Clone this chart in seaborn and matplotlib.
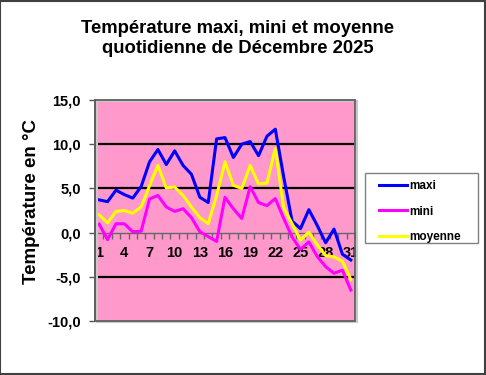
import matplotlib
matplotlib.use("Agg")
import matplotlib.pyplot as plt
import seaborn as sns
import pandas as pd
from matplotlib.patches import Rectangle
from matplotlib.ticker import FuncFormatter

days = list(range(1, 32))
maxi = [3.7, 3.5, 4.8, 4.3, 3.9, 5.2, 8.0, 9.4, 7.7, 9.25, 7.6, 6.6, 4.0, 3.4, 10.6, 10.75,
        8.5, 10.0, 10.3, 8.7, 10.9, 11.7, 6.3, 1.3, 0.45, 2.6, 0.8, -1.15, 0.4, -2.45, -3.1]
mini = [0.95, -0.8, 1.0, 1.0, 0.1, 0.15, 3.8, 4.2, 2.9, 2.4, 2.7, 1.7, 0.1, -0.45, -1.0, 4.0,
        2.7, 1.6, 5.2, 3.4, 3.05, 3.85, 1.6, -0.5, -1.9, -1.05, -2.7, -3.85, -4.6, -4.25, -6.5]
moyenne = [2.0, 1.1, 2.4, 2.5, 2.2, 2.9, 5.3, 7.6, 5.05, 5.15, 4.2, 2.9, 1.7, 1.0, 4.2, 8.0,
           5.35, 5.0, 7.6, 5.5, 5.6, 9.5, 2.8, 1.0, -0.85, 0.05, -1.4, -2.6, -2.75, -3.25, -5.3]
series_names = ["maxi", "mini", "moyenne"]
colors = ["#0000FF", "#FF00FF", "#FFFF00"]
x_tick_days = [1, 4, 7, 10, 13, 16, 19, 22, 25, 28, 31]
y_ticks = [-10, -5, 0, 5, 10, 15]
title = "Température maxi, mini et moyenne\nquotidienne de Décembre 2025"
ylabel = "Température en °C"

df = pd.DataFrame({
    "jour": days * 3,
    "temp": maxi + mini + moyenne,
    "serie": ["maxi"] * 31 + ["mini"] * 31 + ["moyenne"] * 31,
})

plt.rcParams["font.family"] = ["Liberation Sans", "DejaVu Sans"]
plt.rcParams["font.weight"] = "bold"

fig = plt.figure(figsize=(4.86, 3.75), dpi=100)
fig.patch.set_facecolor("white")
ax = fig.add_axes([95 / 486, 1 - 321 / 375, 260 / 486, 221 / 375])
ax.set_facecolor("#FF99CC")

for yv in [5, 10, -5]:
    ax.axhline(yv, color="black", lw=1.6, zorder=1)

sns.lineplot(data=df, x="jour", y="temp", hue="serie", hue_order=series_names,
             palette=colors, lw=2.2, ax=ax, zorder=3, legend=True)

ax.set_xlim(0.5, 31.5)
ax.set_ylim(-10, 15)
ax.set_xlabel("")
ax.set_ylabel("")

# y axis
ax.set_yticks(y_ticks)
ax.yaxis.set_major_formatter(FuncFormatter(lambda v, p: f"{v:.1f}".replace(".", ",")))
ax.tick_params(axis="y", direction="out", length=4, width=1, color="#555555",
               labelsize=10.5, pad=6)
for lab in ax.get_yticklabels():
    lab.set_fontweight("bold")

# x axis at zero
for s in ["top", "right"]:
    ax.spines[s].set_visible(False)
ax.spines["left"].set_color("#555555")
ax.spines["left"].set_linewidth(1.2)
ax.spines["bottom"].set_position(("data", 0))
ax.spines["bottom"].set_color("#666666")
ax.spines["bottom"].set_linewidth(1.0)
bounds = [d + 0.5 for d in range(0, 32)]
ax.set_xticks(bounds)
ax.set_xticklabels([])
ax.set_xticks(x_tick_days, minor=True)
ax.set_xticklabels([str(d) for d in x_tick_days], minor=True)
ax.tick_params(axis="x", which="major", direction="out", length=4, width=1, color="#666666")
ax.tick_params(axis="x", which="minor", length=0, labelsize=10.5, pad=10)
for lab in ax.get_xticklabels(minor=True):
    lab.set_fontweight("bold")

# plot-area frame with shadow
ax.add_patch(Rectangle((0.006, -0.006), 1, 1, transform=ax.transAxes, fill=False,
                       edgecolor="#C8C8C8", lw=1.5, zorder=4, clip_on=False))
ax.add_patch(Rectangle((0, 0), 1, 1, transform=ax.transAxes, fill=False,
                       edgecolor="#606060", lw=1.3, zorder=5, clip_on=False))

# legend (frame drawn separately)
handles, labels = ax.get_legend_handles_labels()
ax.get_legend().remove()
fig.add_artist(Rectangle((365 / 486, 1 - 243 / 375), 113 / 486, 70 / 375,
                         transform=fig.transFigure, facecolor="white",
                         edgecolor="#808080", lw=1.0, zorder=1))
leg = fig.legend(handles, labels, loc="upper left",
                 bbox_to_anchor=(379 / 486, 1 - 180 / 375),
                 frameon=False, fontsize=8.5,
                 handlelength=2.4, handletextpad=0.15, labelspacing=1.15,
                 borderpad=0.0, borderaxespad=0)
leg.set_zorder(2)
for t in leg.get_texts():
    t.set_fontweight("bold")

fig.text(237.5 / 486, 1 - 38.5 / 375, title, ha="center", va="center",
         fontsize=13.3, fontweight="bold", linespacing=1.25)
fig.text(31 / 486, 1 - 201.5 / 375, ylabel, ha="center", va="center", rotation=90,
         fontsize=13.5, fontweight="bold")

fig.add_artist(Rectangle((0.001, 0.002), 0.997, 0.996, transform=fig.transFigure,
                         fill=False, edgecolor="#404040", lw=1.5))

fig.savefig("out.png", dpi=100)
